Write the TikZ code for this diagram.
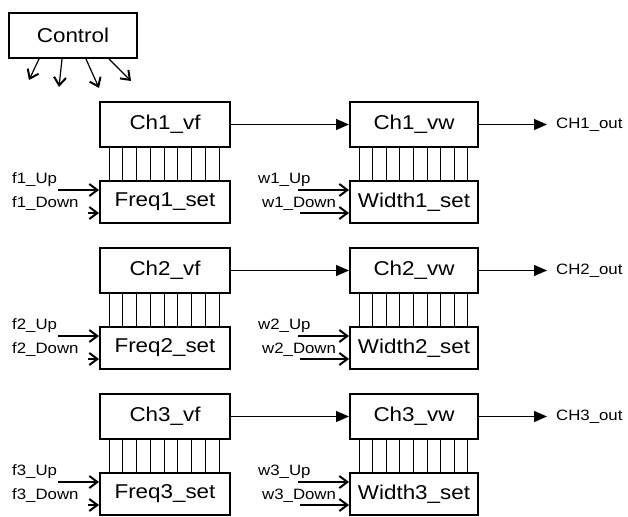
\documentclass[tikz,border=0pt]{standalone}
\usepackage{fontspec}
\setmainfont{Liberation Sans}[FakeStretch=1.12]
\usetikzlibrary{arrows.meta}
\tikzset{
  blk/.style={draw, line width=2pt, inner sep=0pt, font=\fontsize{20}{22}\selectfont},
  vfbox/.style={blk, minimum width=130pt, minimum height=45pt},
  vwbox/.style={blk, minimum width=128pt, minimum height=45pt},
  setbox/.style={blk, minimum width=130pt, minimum height=42pt},
  wsetbox/.style={blk, minimum width=128pt, minimum height=42pt},
  lbl/.style={inner sep=0pt, anchor=west, font=\fontsize{15}{17}\selectfont},
  bar/.style={line width=1pt},
  tri/.style={line width=1.2pt, -{Triangle[length=13pt,width=11pt]}},
  barb/.style={line width=1.2pt, -{Straight Barb[length=8pt,width=12pt,line width=2pt]}},
}
\begin{document}
\begin{tikzpicture}[x=1pt,y=-1pt]
\useasboundingbox (0,0) rectangle (628,516);
% Control
\node[blk, minimum width=128pt, minimum height=45pt] (ctl) at (73,35.5) {Control};
\coordinate (c1) at (29,80);
\coordinate (c2) at (59,87);
\coordinate (c3) at (99,88);
\coordinate (c4) at (131,81);
\draw[barb] ([xshift=31pt]ctl.south west) -- (c1);
\draw[barb] ([xshift=54pt]ctl.south west) -- (c2);
\draw[barb] ([xshift=78pt]ctl.south west) -- (c3);
\draw[barb] ([xshift=101pt]ctl.south west) -- (c4);
% rows
\foreach \r/\t in {1/102, 2/248, 3/394}{
  \node[vfbox] (vf\r) at (165,\t+22.5) {Ch\r\_vf};
  \node[setbox] (fs\r) at (165,\t+100) {Freq\r\_set};
  \node[vwbox] (vw\r) at (414,\t+22.5) {Ch\r\_vw};
  \node[wsetbox] (ws\r) at (414,\t+100) {Width\r\_set};
  \foreach \i in {0,...,8}{
    \draw[bar] ([xshift={10pt+13.75pt*\i}]vf\r.south west) -- ([xshift={10pt+13.75pt*\i}]fs\r.north west);
    \draw[bar] ([xshift={10pt+13.6pt*\i}]vw\r.south west) -- ([xshift={10pt+13.6pt*\i}]ws\r.north west);
  }
  \draw[tri] (vf\r.east) -- (vw\r.west);
  \node[lbl] (out\r) at (556,\t+22.5) {CH\r\_out};
  \draw[tri] (vw\r.east) -- ([xshift=-9pt]out\r.west);
  % f inputs
  \node[lbl] (fu\r) at (12,\t+78) {f\r\_Up};
  \node[lbl] (fd\r) at (12,\t+102) {f\r\_Down};
  \coordinate (fua\r) at (58,\t+88);
  \coordinate (fda\r) at (88,\t+111);
  \draw[barb] (fua\r) -- (fua\r -| fs\r.west);
  \draw[barb] (fda\r) -- (fda\r -| fs\r.west);
  % w inputs
  \node[lbl] (wu\r) at (258,\t+78) {w\r\_Up};
  \node[lbl] (wd\r) at (262,\t+102) {w\r\_Down};
  \coordinate (wua\r) at (298,\t+88);
  \coordinate (wda\r) at (300,\t+111);
  \draw[barb] (wua\r) -- (wua\r -| ws\r.west);
  \draw[barb] (wda\r) -- (wda\r -| ws\r.west);
}
\end{tikzpicture}
\end{document}
